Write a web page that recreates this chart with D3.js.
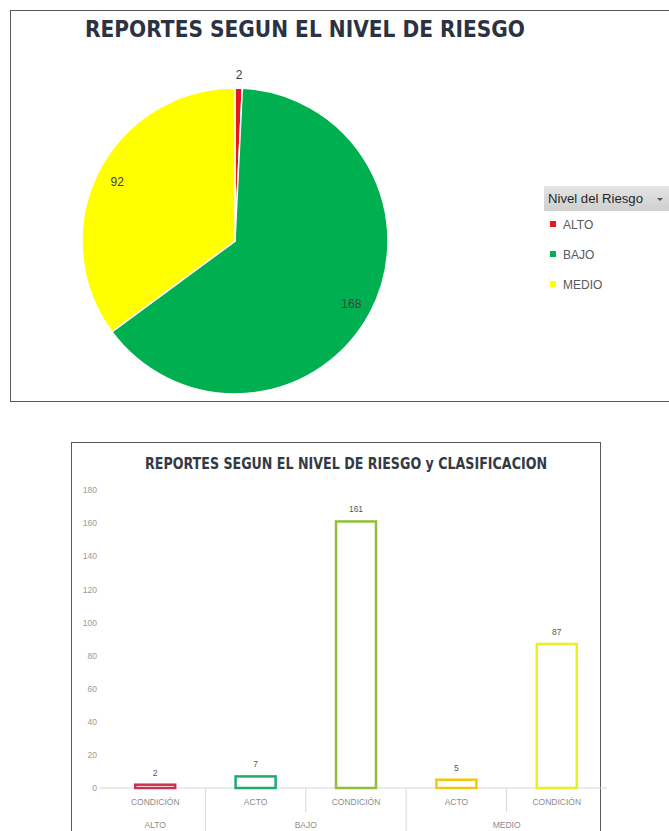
<!DOCTYPE html>
<html><head><meta charset="utf-8">
<script src="https://cdn.jsdelivr.net/npm/d3@7"></script>
<style>html,body{margin:0;padding:0;background:#fff;}svg{display:block;}</style>
</head><body>
<svg id="c" width="669" height="831"></svg>
<script>
// ---- Data ----
const pieCategories = ["ALTO", "BAJO", "MEDIO"];
const pieValues = [2, 168, 92];
const pieColors = ["#e31a1c", "#00b050", "#ffff00"];

const barGroups = ["ALTO", "BAJO", "BAJO", "MEDIO", "MEDIO"];
const barSubs = ["CONDICIÓN", "ACTO", "CONDICIÓN", "ACTO", "CONDICIÓN"];
const barValues = [2, 7, 161, 5, 87];
const barColors = ["#c8344f", "#1faa6e", "#8fbf3a", "#f2c80f", "#e8f020"];
const yTicks = [0, 20, 40, 60, 80, 100, 120, 140, 160, 180];

const svg = d3.select("#c");

// ---- Top chart ----
svg.append("rect").attr("x", 10.5).attr("y", 10.5).attr("width", 700).attr("height", 391)
  .attr("fill", "none").attr("stroke", "#595959").attr("stroke-width", 1);

svg.append("text").attr("x", 85).attr("y", 37)
  .attr("font-family", "DejaVu Sans").attr("font-weight", "bold").attr("font-size", 23)
  .attr("fill", "#2b3342").attr("textLength", 440).attr("lengthAdjust", "spacingAndGlyphs")
  .text("REPORTES SEGUN EL NIVEL DE RIESGO");

const cx = 235, cy = 241, R = 153;
const pie = d3.pie().sort(null).value(d => d)(pieValues);
const arc = d3.arc().innerRadius(0).outerRadius(R);
const g = svg.append("g").attr("transform", `translate(${cx},${cy})`);
g.selectAll("path").data(pie).join("path")
  .attr("d", arc).attr("fill", (d, i) => pieColors[i])
  .attr("stroke", "#fff").attr("stroke-width", 1.5);

const labelR = [166, 132, 132];
g.selectAll("text.lbl").data(pie).join("text").attr("class", "lbl")
  .attr("transform", (d, i) => {
    const c = d3.arc().innerRadius(labelR[i]).outerRadius(labelR[i]).centroid(d);
    return `translate(${c[0]},${c[1]})`;
  })
  .attr("text-anchor", "middle").attr("dy", "0.35em")
  .attr("font-family", "Liberation Sans, Arial").attr("font-size", 12).attr("fill", "#404040")
  .text(d => d.value);

// Legend
const lg = svg.append("g");
const grad = svg.append("defs").append("linearGradient").attr("id", "hdr").attr("x1", 0).attr("y1", 0).attr("x2", 0).attr("y2", 1);
grad.append("stop").attr("offset", "0%").attr("stop-color", "#e4e4e4");
grad.append("stop").attr("offset", "100%").attr("stop-color", "#cfcfcf");
lg.append("rect").attr("x", 544).attr("y", 186).attr("width", 130).attr("height", 25).attr("fill", "url(#hdr)");
lg.append("text").attr("x", 548).attr("y", 203).attr("font-family", "Liberation Sans, Arial")
  .attr("font-size", 12).attr("fill", "#262626").attr("textLength", 95).attr("lengthAdjust", "spacingAndGlyphs")
  .text("Nivel del Riesgo");
lg.append("path").attr("d", "M657,198 l6,0 l-3,3 z").attr("fill", "#595959");
pieCategories.forEach((c, i) => {
  const y = 224 + i * 30;
  lg.append("rect").attr("x", 550).attr("y", y - 3).attr("width", 6).attr("height", 6).attr("fill", pieColors[i]);
  lg.append("text").attr("x", 563).attr("y", y + 4.5).attr("font-family", "Liberation Sans, Arial")
    .attr("font-size", 12).attr("fill", "#595959").text(c);
});

// ---- Bottom chart ----
svg.append("rect").attr("x", 71.5).attr("y", 442.5).attr("width", 529).attr("height", 420)
  .attr("fill", "none").attr("stroke", "#595959").attr("stroke-width", 1);

svg.append("text").attr("x", 145).attr("y", 469)
  .attr("font-family", "DejaVu Sans").attr("font-weight", "bold").attr("font-size", 15)
  .attr("fill", "#333a45").attr("textLength", 402).attr("lengthAdjust", "spacingAndGlyphs")
  .text("REPORTES SEGUN EL NIVEL DE RIESGO  y CLASIFICACION");

const y = d3.scaleLinear().domain([0, 180]).range([788, 490]);
const xb = d3.scaleBand().domain(d3.range(barValues.length)).range([105, 607]);

const yAxis = svg.append("g").attr("transform", "translate(97,0)")
  .call(d3.axisLeft(y).tickValues(yTicks).tickSize(0).tickPadding(0));
yAxis.select(".domain").remove();
yAxis.selectAll("text").attr("font-family", "Liberation Sans, Arial").attr("font-size", 8.5).attr("fill", "#9a9a9a");

// baseline
svg.append("line").attr("x1", 100).attr("x2", 607).attr("y1", y(0)).attr("y2", y(0))
  .attr("stroke", "#d9d9d9").attr("stroke-width", 1);

// bars
svg.selectAll("rect.bar").data(barValues).join("rect").attr("class", "bar")
  .attr("x", (d, i) => xb(i) + xb.bandwidth() / 2 - 20)
  .attr("width", 40)
  .attr("y", d => y(d))
  .attr("height", d => y(0) - y(d))
  .attr("fill", "#fff").attr("stroke", (d, i) => barColors[i]).attr("stroke-width", 2.5);

svg.selectAll("text.val").data(barValues).join("text").attr("class", "val")
  .attr("x", (d, i) => xb(i) + xb.bandwidth() / 2)
  .attr("y", d => y(d) - 9)
  .attr("text-anchor", "middle").attr("font-family", "Liberation Sans, Arial")
  .attr("font-size", 8.5).attr("fill", "#595959").text(d => d);

// sub labels
svg.selectAll("text.sub").data(barSubs).join("text").attr("class", "sub")
  .attr("x", (d, i) => xb(i) + xb.bandwidth() / 2).attr("y", 805)
  .attr("text-anchor", "middle").attr("font-family", "Liberation Sans, Arial")
  .attr("font-size", 8.5).attr("fill", "#8c8c8c").text(d => d);

// group labels and separators
const groups = [];
barGroups.forEach((gname, i) => {
  if (!groups.length || groups[groups.length - 1].name !== gname) groups.push({ name: gname, start: i, end: i });
  else groups[groups.length - 1].end = i;
});
groups.forEach((gr, k) => {
  const x0 = xb(gr.start), x1 = xb(gr.end) + xb.bandwidth();
  svg.append("text").attr("x", (x0 + x1) / 2).attr("y", 828).attr("text-anchor", "middle")
    .attr("font-family", "Liberation Sans, Arial").attr("font-size", 8.5).attr("fill", "#8c8c8c").text(gr.name);
  if (k > 0) svg.append("line").attr("x1", x0).attr("x2", x0).attr("y1", 788).attr("y2", 831)
    .attr("stroke", "#d9d9d9");
  for (let i = gr.start + 1; i <= gr.end; i++) {
    svg.append("line").attr("x1", xb(i)).attr("x2", xb(i)).attr("y1", 788).attr("y2", 812).attr("stroke", "#d9d9d9");
  }
});
</script>
</body></html>
